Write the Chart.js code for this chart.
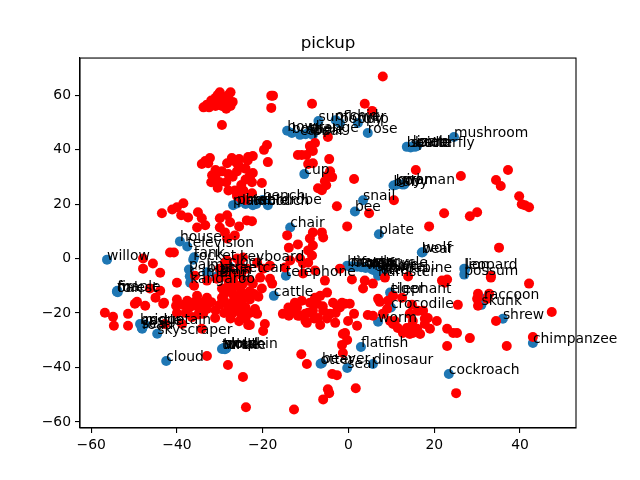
<!DOCTYPE html>
<html>
<head>
<meta charset="utf-8">
<style>
  html, body { margin: 0; padding: 0; background: #fff; }
  canvas { display: block; }
</style>
<script src="https://cdn.jsdelivr.net/npm/chart.js@4"></script>
</head>
<body>
<canvas id="tsne" width="640" height="480"></canvas>
<script>
const chartTitle = "pickup";
const xTicksStep = 20;
const yTicksStep = 20;

// word, x, y of the blue points
const wordLabels = ["willow","house","television","rocket","tank","palm","camel","kangaroo","bus","train","lamp","clock","keyboard","streetcar",
  "plain","pine","bed","table","wardrobe","couch","bench",
  "bowl","bottle","can","apple","pear","orange","sunflower","orchid","poppy","tulip","rose","cup",
  "beetle","spider","lizard","butterfly","crab","mushroom",
  "baby","boy","girl","man","woman",
  "snail","bee","chair","plate","telephone","cattle",
  "bicycle","motorcycle","tractor","lawn","fox","wolf2","mouse","rabbit","squirrel","hamster","otter","porcupine",
  "bear","wolf","lion","leopard","possum","elephant","tiger","crocodile","worm",
  "raccoon","skunk","shrew","chimpanzee","cockroach",
  "flatfish","dinosaur","seal","beaver","otter2",
  "oak","fir","maple","forest",
  "bridge","castle","road","mountain","sea","skyscraper","cloud",
  "turtle","trout","shark","whale","dolphin"];
const wordX = [-56.3,-39.3,-37.6,-36.2,-36,-37.2,-37,-36.9,-33,-30,-31,-28,-25.3,-29.5,
  -26.9,-26,-24,-22.3,-21.5,-18.8,-20,
  -14.3,-13.2,-11.3,-10,-8.3,-9,-7,-3,-2,2.2,4.5,-10.3,
  13.6,14.5,15,15.5,16,24.6,
  10.5,11,11.5,12.5,13,
  3.4,1.5,-13.6,7.1,-14.6,-17.4,
  -0.3,0.5,1,2,3,4,5.5,6,6.5,6.9,7.5,8,
  17.1,17.3,27,27.2,27,9.7,10,9.9,6.9,
  31.6,31,36,43,23.4,
  2.9,5.7,-0.3,-6.2,-6.5,
  -54,-53.9,-53.9,-53.8,
  -48.6,-48.4,-48.1,-47.5,-48.2,-44.6,-42.5,
  -29.5,-29.2,-29,-28.8,-28.5];
const wordY = [-0.4,6.3,4.4,-0.4,0.5,-4,-6.5,-8.9,-5,-5.5,-6.8,-2.6,-1,-4.8,
  19.6,20.2,20,19.6,20,19.6,21.5,
  46.9,46.1,45.4,45.6,45.4,46.5,50.5,50.8,49.7,49.8,46.1,31,
  41,40.8,41.2,41,41.3,44.6,
  26.8,27,27.4,27.2,27.2,
  21.4,17.3,11.4,8.9,-6.3,-13.7,
  -2.6,-3,-2.8,-3,-3.2,-3.5,-4,-4.3,-4.5,-6.3,-5.5,-4.8,
  2.2,2.3,-3.7,-4,-5.9,-12.5,-12.8,-18,-23.2,
  -14.8,-17,-22.1,-31,-42.4,
  -32.5,-38.7,-40.2,-38.4,-38.6,
  -12.2,-12,-11.8,-12.4,
  -24,-24.3,-25.8,-24.2,-25.5,-27.6,-37.6,
  -33.2,-33,-32.8,-33.3,-33];

// red points, [x, y]
const redPoints = [
  [-33.8,55.5],[-33,56.5],[-32.5,55.5],[-32,58],[-31.5,57],[-31,56],[-30.5,60],[-30,61],[-30,58],[-29.5,56],
  [-29,59],[-28.5,55],[-28,57],[-28,60],[-27.5,61],[-27.5,56],[-27,57.5],[-31,59],[-29.5,49],
  [-34.2,34.7],[-33.4,35.8],[-32.3,36.9],[-32.7,35],[-31.8,30.6],[-31,32.5],[-28.3,35],[-27.2,36.9],[-25.5,36.5],[-23.4,37.3],
  [-30,28],[-31,30],[-29.5,32],[-28.5,28],[-28,31],[-27,30],[-26.5,25],
  [-26,32],[-25.5,34],[-25,27],[-24.5,25],[-24,29],[-24,33],[-23,30],
  [-22.5,24],[-22.5,28],[-28,25],[-26,23],[-25,22],[-24,21.5],[-23.5,36],[-26,35],[-27,36],[-30.5,26],[-32,28],
  [-18,59.8],[-17.6,59.8],[-18,55.3],[-8.5,56.8],[3.8,56.8],[5.5,54.2],[8,66.8],
  [-4.8,44.6],[-7.8,42.4],[-9,41.3],[-9.8,38],[-11.8,38],[-10.9,38],[-8.3,39.5],[-8.8,40.6],[-4.5,36.5],[-9.4,34.7],[-8.3,35],
  [-4.3,32],[-3.8,29.9],[-4.8,30.6],[-5.5,28.4],[1.3,29.2],[15.7,32.5],
  [-19,41.7],[-19.7,39.9],[-22.3,37.6],[-18.8,35.4],[-22.3,31.4],[-23,30.3],[-20.2,27.7],
  [26.2,30.3],[37.2,32.5],[34.4,28.8],[35.5,26.6],[39.8,22.9],[40.4,19.9],[41.1,19.6],[42.1,18.8],
  [22.3,16.6],[30,17],[28.3,15.5],[18.8,11.8],[35.1,4],[33.2,-6.3],[33.2,-7],[42.1,-9.2],[21.8,-8.1],[23,-7.7],[22.5,-8.9],
  [30.2,-12.9],[32.8,-12.9],[30,-14.8],[32.3,-14.8],[25.5,-17],[30.2,-17.3],[47.4,-19.6],[34.4,-22.9],[43,-28.8],[36.9,-32.1],
  [28.3,-29.2],[23,-25.8],[24.4,-27.3],[25.3,-27.3],[23,-32.1],[25.1,-49.4],[20.6,-22.9],[18.5,-21.8],[17.8,-24],[19,-25.8],
  [16.7,-27.7],[15,-27.3],[14.3,-25.8],[16.2,-19.2],[17.4,-19.2],[14.8,-24.7],[17.8,-22.1],
  [-21.8,-18.5],[-21.3,-20.3],[-23,-24.4],[-19.5,-24],[-19.9,-26.6],[-15.3,-20.3],[-13.9,-21],[-11.8,-21],[-9.7,-23.6],[-6.6,-24.4],
  [-3.1,-23.6],[-0.1,-22.9],[2,-24.7],[1.3,-20.3],[4.5,-20.7],[5.7,-21],[-1.3,-27.7],[-0.3,-29.9],[-1.5,-31.7],[-1.3,-34.7],[-0.8,-27.3],
  [-11,-35.1],[-9.7,-38.7],[-3.8,-42.4],[-2.7,-42.8],[-4.8,-48],[-4.5,-49.4],[-5.9,-51.7],[1.7,-47.6],[-12.7,-55.4],
  [10.4,-24],[11.5,-25.5],[12.7,-27.3],[14.3,-27.7],
  [-56.8,-19.9],[-54.9,-21.4],[-54.7,-24.7],[-51.4,-24.7],[-51.4,-20.3],[-33,-35.8],[-28.1,-39.1],[-24.6,-43.5],[-23.9,-54.6],[-23.4,-24.4],
  [-34.2,-25.8],[-38.8,-24],[-42.8,-24],[-31.1,-21.8],[-33.9,-20.3],[-49.8,-16.6],[-47.4,-17.3],[-43.2,-16.6],[-40.2,-17.3],
  [-40,-15],[-38.5,-17],[-37,-18],[-36,-16],[-35,-18],[-34,-16],[-33,-18.5],[-32,-16],[-31,-19],[-30,-17],[-29,-20],[-29,-15.5],
  [-28,-18],[-27.5,-22],[-27,-16],[-27,-20],[-26,-18.5],[-25.5,-23],[-25,-16],[-25,-20.5],[-24,-18],[-24,-22],[-23,-15],[-23,-20],
  [-38,-20],[-36.5,-21.5],[-35,-20.5],[-40,-20],
  [-30,-7],[-29,-5.5],[-28,-8],[-27,-6],[-26,-10],[-25,-6],[-28,-10],[-29,-13],[-27,-13],[-25,-12],[-24,-14],[-23,-12],[-22,-13],[-21,-14],
  [-43.5,16.6],[-41.1,18],[-40,18.8],[-38.5,20.3],[-39,15.9],[-37.4,15.1],[-35.1,17],[-34.2,14.8],[-35.3,11.4],[-33.4,12.2],
  [-30,14.8],[-28.3,15.9],[-27.6,13.3],[-25.5,11.8],[-30,11.4],[-28.8,9.6],[-26.5,8.5],[-23.7,14],[-28.3,7.4],
  [-41.6,2.2],[-40.7,2.2],[-47.9,0],[-45.6,-1.8],[-47.9,-3.7],[-43.9,-5.2],[-40,-8.9],[-36,-10],[-29.5,-11],[-27.2,-11.8],
  [-43.9,-11.8],[-46.3,-11],[-45,-14.4],[-43,-16.2],[-49.3,-15.9],[-37.6,-15.5],[-35.3,-13.7],[-33,-14.4],[-29.5,-14.4],[-26,-14.4],
  [-28.3,-0.7],[-30,-3.7],[-27.6,-4.4],[-25.3,-2.6],[-23.7,-3.7],[-35.8,-6.3],[-33,-8.1],[-30.7,-7.4],[-24.6,-9.2],[-26.9,-8.1],[-23,-8.1],
  [-26,0],[-24.6,0.4],[-28.8,-1.5],
  [-6.2,25.1],[-5.2,26.9],[-7.1,25.8],[-2.7,19.2],[10.6,21.4],[4.8,16.6],[-0.3,11.8],[-22.5,13.7],
  [-14.3,8.5],[-13.9,4],[-11.8,5.2],[-8.3,9.6],[-6.2,9.6],[-5.9,7.7],[-9,7.4],[-8.3,4.8],[-9.4,3],[-8.5,1.1],[-11.3,0],[-10.6,-1.8],
  [-9.4,-1.5],[-13.6,-0.7],[-14.8,-3.3],[-18.3,-2.6],[-21.3,-1.5],[-19.9,-3.7],[-18.3,-7.4],[-20.6,-7],[-17.8,-9.2],[-20.2,-11],[-22.3,-9.2],
  [-10.6,-5.5],[-7.8,-4.4],[-5.5,-8.1],[-2,-3.7],[0.8,-7.7],[3.8,-8.1],[5.7,-9.2],[3.4,-11],[6.9,-14.8],[8.5,-7],[13.9,-6.6],
  [10.4,-13.7],[12.5,-14.4],[9.2,-15.5],[14.8,-17],
  [-5,-12.5],[-6.6,-13.7],[-3.6,-16.2],[-1.5,-16.2],[0.3,-16.6],[-10.9,-15.5],[-12.5,-16.2],[-9,-16.2],[-7.8,-14.4],
  [-7.3,-16.6],[-8.3,-19.2],[-5.9,-19.2],[-4.3,-20.3],[-2.7,-17.3],[-0.8,-16.6],[-10.1,-20.3],[-7.1,-21.8],[-9.4,-19.9],[-11.3,-21],
  [7.3,-15.9],[8,-20.3],[9.7,-22.9],[10.8,-22.9],[13.6,-25.5],[16,-25.8],[15,-22.9],[14.3,-20.3],[9,-18.5],
  [-14,-18],[-13,-19],[-6,-17.5],[-5,-22],[-3,-20],[-2,-18],[-12,-18],[-8,-22],[-10,-23]
];

const fontFamily = "'DejaVu Sans', sans-serif";

// borders on all sides and the word labels on top of the points
const overlay = {
  id: "overlay",
  afterDraw(chart) {
    const { ctx, chartArea: a, scales } = chart;
    ctx.save();
    ctx.fillStyle = "#000";
    ctx.font = "13.9px " + fontFamily;
    ctx.textAlign = "left";
    ctx.textBaseline = "alphabetic";
    wordLabels.forEach((w, i) => {
      const name = w.replace(/\d+$/, "");
      ctx.fillText(name, scales.x.getPixelForValue(wordX[i]), scales.y.getPixelForValue(wordY[i]));
    });
    ctx.strokeStyle = "#000";
    ctx.lineWidth = 1.1;
    ctx.strokeRect(a.left, a.top, a.right - a.left, a.bottom - a.top);
    ctx.restore();
  }
};

function minusTick(v) {
  return String(v).replace("-", "\u2212");
}

new Chart(document.getElementById("tsne").getContext("2d"), {
  type: "scatter",
  data: {
    datasets: [
      {
        data: redPoints.map(p => ({ x: p[0], y: p[1] })),
        backgroundColor: "#ff0000",
        pointRadius: 5,
        borderWidth: 0,
        order: 1
      },
      {
        data: wordX.map((x, i) => ({ x: x, y: wordY[i] })),
        backgroundColor: "#1f77b4",
        pointRadius: 5,
        borderWidth: 0,
        order: 2
      }
    ]
  },
  options: {
    responsive: false,
    animation: false,
    layout: { padding: { right: 64 } },
    plugins: {
      legend: { display: false },
      tooltip: { enabled: false },
      title: {
        display: true,
        text: chartTitle,
        fullSize: false,
        color: "#000",
        font: { family: fontFamily, size: 16.7, weight: "normal" },
        padding: { top: 34, bottom: 4 }
      }
    },
    scales: {
      x: {
        type: "linear",
        min: -62.6,
        max: 53.05,
        afterFit(s) { s.height = 52; },
        grid: { drawOnChartArea: false, color: "#000", tickLength: 5, lineWidth: 1.1 },
        border: { color: "#000", width: 1.1 },
        ticks: {
          stepSize: xTicksStep,
          includeBounds: false,
          autoSkip: false,
          maxRotation: 0,
          color: "#000",
          padding: 4,
          font: { family: fontFamily, size: 13.9 },
          callback: minusTick
        }
      },
      y: {
        type: "linear",
        min: -62.2,
        max: 73.6,
        afterFit(s) { s.width = 80; },
        grid: { drawOnChartArea: false, color: "#000", tickLength: 5, lineWidth: 1.1 },
        border: { color: "#000", width: 1.1 },
        ticks: {
          stepSize: yTicksStep,
          includeBounds: false,
          autoSkip: false,
          color: "#000",
          padding: 4,
          font: { family: fontFamily, size: 13.9 },
          callback: minusTick
        }
      }
    }
  },
  plugins: [overlay]
});
</script>
</body>
</html>
